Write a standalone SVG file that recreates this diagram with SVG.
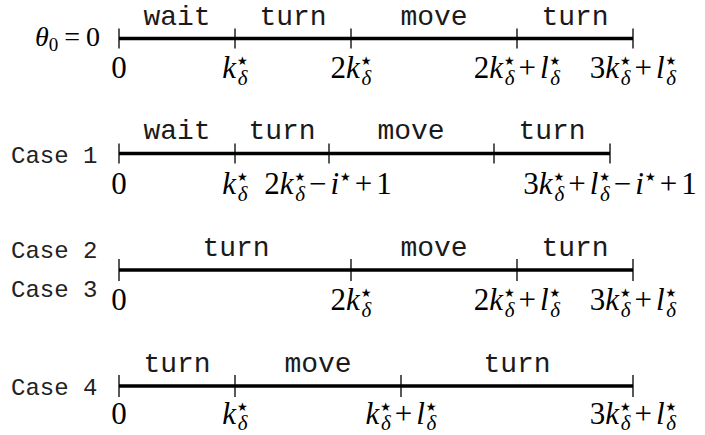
<svg xmlns="http://www.w3.org/2000/svg" width="705" height="435" viewBox="0 0 705 435">
<style>
.mono{font-family:"Liberation Mono","DejaVu Sans Mono",monospace;font-size:28px;fill:#1a1a1a;text-anchor:middle}
.case{font-family:"Liberation Mono","DejaVu Sans Mono",monospace;font-size:24px;fill:#222}
.math{font-family:"Liberation Serif","DejaVu Serif",serif;font-size:31px;fill:#000;text-anchor:middle}
.i{font-style:italic}
.st{font-family:"DejaVu Sans",sans-serif;font-size:12px;font-style:normal}
.sb{font-size:21px;font-style:italic}
.axis{stroke:#000;stroke-width:3.5;fill:none}
.tick{stroke:#000;stroke-width:1.3;fill:none}
</style>
<rect width="705" height="435" fill="#fff"/>

<g id="row0">
  <text x="100" y="46" style="font-family:'Liberation Serif',serif;font-size:28px;text-anchor:end"><tspan font-style="italic">θ</tspan><tspan font-size="19" dy="5">0</tspan><tspan dy="-5" dx="6">=</tspan><tspan dx="6">0</tspan></text>
  <line class="axis" x1="119" y1="38.5" x2="633" y2="38.5"/>
  <path class="tick" d="M119,28.5V48.5M235,28.5V48.5M351,28.5V48.5M517,28.5V48.5M633,28.5V48.5"/>
  <text class="mono" x="177" y="25">wait</text>
  <text class="mono" x="293" y="25">turn</text>
  <text class="mono" x="434" y="25">move</text>
  <text class="mono" x="575" y="25">turn</text>
  <text class="math" x="119" y="78">0</text>
  <text class="math" x="235" y="78"><tspan class="i">k</tspan><tspan class="st" dx="1" dy="-13">★</tspan><tspan class="sb" dx="-10" dy="20">δ</tspan></text>
  <text class="math" x="351" y="78">2<tspan class="i">k</tspan><tspan class="st" dx="1" dy="-13">★</tspan><tspan class="sb" dx="-10" dy="20">δ</tspan></text>
  <text class="math" x="517" y="78">2<tspan class="i">k</tspan><tspan class="st" dx="1" dy="-13">★</tspan><tspan class="sb" dx="-10" dy="20">δ</tspan><tspan dx="4" dy="-7">+</tspan><tspan class="i" dx="4">l</tspan><tspan class="st" dx="1" dy="-13">★</tspan><tspan class="sb" dx="-10" dy="20">δ</tspan></text>
  <text class="math" x="633" y="78">3<tspan class="i">k</tspan><tspan class="st" dx="1" dy="-13">★</tspan><tspan class="sb" dx="-10" dy="20">δ</tspan><tspan dx="4" dy="-7">+</tspan><tspan class="i" dx="4">l</tspan><tspan class="st" dx="1" dy="-13">★</tspan><tspan class="sb" dx="-10" dy="20">δ</tspan></text>
</g>

<g id="row1">
  <text class="case" x="11" y="163">Case 1</text>
  <line class="axis" x1="119" y1="153.5" x2="610" y2="153.5"/>
  <path class="tick" d="M119,143.5V163.5M235,143.5V163.5M329,143.5V163.5M494,143.5V163.5M610,143.5V163.5"/>
  <text class="mono" x="177" y="139">wait</text>
  <text class="mono" x="282" y="139">turn</text>
  <text class="mono" x="411" y="139">move</text>
  <text class="mono" x="552" y="139">turn</text>
  <text class="math" x="119" y="194">0</text>
  <text class="math" x="235" y="194"><tspan class="i">k</tspan><tspan class="st" dx="1" dy="-13">★</tspan><tspan class="sb" dx="-10" dy="20">δ</tspan></text>
  <text class="math" x="328" y="194">2<tspan class="i">k</tspan><tspan class="st" dx="1" dy="-13">★</tspan><tspan class="sb" dx="-10" dy="20">δ</tspan><tspan dx="4" dy="-7">−</tspan><tspan class="i" dx="4">i</tspan><tspan class="st" dx="1" dy="-13">★</tspan><tspan dx="4" dy="13">+</tspan><tspan dx="4">1</tspan></text>
  <text class="math" x="610" y="194">3<tspan class="i">k</tspan><tspan class="st" dx="1" dy="-13">★</tspan><tspan class="sb" dx="-10" dy="20">δ</tspan><tspan dx="4" dy="-7">+</tspan><tspan class="i" dx="4">l</tspan><tspan class="st" dx="1" dy="-13">★</tspan><tspan class="sb" dx="-10" dy="20">δ</tspan><tspan dx="4" dy="-7">−</tspan><tspan class="i" dx="4">i</tspan><tspan class="st" dx="1" dy="-13">★</tspan><tspan dx="4" dy="13">+</tspan><tspan dx="4">1</tspan></text>
</g>

<g id="row2">
  <text class="case" x="11" y="258">Case 2</text>
  <text class="case" x="11" y="297">Case 3</text>
  <line class="axis" x1="119" y1="270" x2="633" y2="270"/>
  <path class="tick" d="M119,259V281M351,259V281M517,259V281M633,259V281"/>
  <text class="mono" x="236" y="256">turn</text>
  <text class="mono" x="434" y="256">move</text>
  <text class="mono" x="575" y="256">turn</text>
  <text class="math" x="119" y="310">0</text>
  <text class="math" x="351" y="310">2<tspan class="i">k</tspan><tspan class="st" dx="1" dy="-13">★</tspan><tspan class="sb" dx="-10" dy="20">δ</tspan></text>
  <text class="math" x="517" y="310">2<tspan class="i">k</tspan><tspan class="st" dx="1" dy="-13">★</tspan><tspan class="sb" dx="-10" dy="20">δ</tspan><tspan dx="4" dy="-7">+</tspan><tspan class="i" dx="4">l</tspan><tspan class="st" dx="1" dy="-13">★</tspan><tspan class="sb" dx="-10" dy="20">δ</tspan></text>
  <text class="math" x="633" y="310">3<tspan class="i">k</tspan><tspan class="st" dx="1" dy="-13">★</tspan><tspan class="sb" dx="-10" dy="20">δ</tspan><tspan dx="4" dy="-7">+</tspan><tspan class="i" dx="4">l</tspan><tspan class="st" dx="1" dy="-13">★</tspan><tspan class="sb" dx="-10" dy="20">δ</tspan></text>
</g>

<g id="row3">
  <text class="case" x="11" y="395">Case 4</text>
  <line class="axis" x1="119" y1="386" x2="633" y2="386"/>
  <path class="tick" d="M119,375V397M235,375V397M401,375V397M633,375V397"/>
  <text class="mono" x="177" y="372">turn</text>
  <text class="mono" x="318" y="372">move</text>
  <text class="mono" x="517" y="372">turn</text>
  <text class="math" x="119" y="424">0</text>
  <text class="math" x="235" y="424"><tspan class="i">k</tspan><tspan class="st" dx="1" dy="-13">★</tspan><tspan class="sb" dx="-10" dy="19">δ</tspan></text>
  <text class="math" x="401" y="424"><tspan class="i">k</tspan><tspan class="st" dx="1" dy="-13">★</tspan><tspan class="sb" dx="-10" dy="19">δ</tspan><tspan dx="4" dy="-6">+</tspan><tspan class="i" dx="4">l</tspan><tspan class="st" dx="1" dy="-13">★</tspan><tspan class="sb" dx="-10" dy="19">δ</tspan></text>
  <text class="math" x="633" y="424">3<tspan class="i">k</tspan><tspan class="st" dx="1" dy="-13">★</tspan><tspan class="sb" dx="-10" dy="19">δ</tspan><tspan dx="4" dy="-6">+</tspan><tspan class="i" dx="4">l</tspan><tspan class="st" dx="1" dy="-13">★</tspan><tspan class="sb" dx="-10" dy="19">δ</tspan></text>
</g>
</svg>
